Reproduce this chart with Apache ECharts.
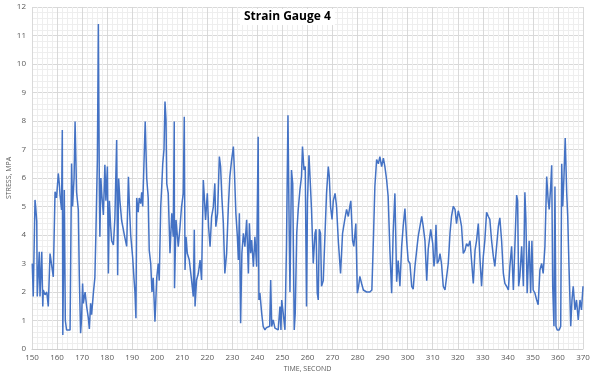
<!DOCTYPE html>
<html>
<head>
<meta charset="utf-8">
<script src="https://cdn.jsdelivr.net/npm/echarts@6/dist/echarts.min.js"></script>
<style>html,body{margin:0;padding:0;background:#fff}#c{width:600px;height:383px}</style>
</head>
<body>
<div id="c"></div>
<script>
const titleText = 'Strain Gauge 4';
const xName = 'TIME, SECOND';
const yName = 'STRESS, MPA';
const time = [150.1,150.5,151.2,151.5,151.9,152.1,152.9,153.2,153.9,154.3,154.5,155.2,155.9,156.5,157.2,157.9,158.5,159.2,159.8,160.5,160.9,161.2,161.8,162.1,162.3,162.9,163.3,163.8,164.5,165.2,165.8,166.2,166.8,167.2,167.8,168.5,168.9,169.4,169.8,170.2,170.5,171.2,171.8,172.5,172.9,173.4,173.8,174.5,175.1,175.5,176.1,176.5,176.9,177.1,177.5,177.8,178.5,179.1,179.5,180.1,180.5,180.9,181.4,181.8,182.5,183.1,183.8,184.2,184.6,185.1,185.8,186.5,187.1,187.8,188.5,188.9,189.4,190.2,190.7,191.1,191.5,191.8,192.4,192.8,193.4,193.8,194.2,194.7,195.2,195.8,196.4,196.8,197.4,197.9,198.4,199.1,199.8,200.4,200.8,201.4,201.8,202.2,202.7,203.1,203.5,203.8,204.4,205.1,205.8,206.4,206.8,206.9,207.5,208.4,209.1,209.7,210.4,210.8,211.1,211.5,212.0,212.8,213.7,214.4,214.8,215.1,215.7,216.4,217.1,217.7,218.4,218.8,219.3,220.0,220.5,221.1,221.7,222.4,223.0,223.4,224.1,224.8,225.3,225.8,226.4,227.0,227.7,228.4,229.0,229.7,230.4,230.8,231.4,232.0,232.4,232.8,233.3,233.8,234.4,235.0,235.7,236.4,236.8,237.3,237.7,238.4,239.0,239.7,240.3,240.6,241.0,241.7,242.3,243.0,243.6,244.3,244.9,245.3,245.7,246.3,247.0,247.6,248.3,249.0,249.4,249.7,250.3,251.0,251.6,252.2,252.7,253.0,253.6,254.1,254.7,255.1,255.7,256.3,257.0,257.6,258.0,258.6,259.1,259.6,260.0,260.6,261.0,261.6,262.3,263.0,263.4,263.9,264.3,264.7,265.2,265.6,266.3,267.0,267.6,268.3,268.7,269.2,269.8,270.3,271.0,271.6,272.3,273.2,274.0,274.9,275.6,276.3,276.9,277.3,278.0,278.5,279.3,279.9,280.4,280.9,281.6,282.3,283.0,283.6,284.3,284.9,285.7,286.3,286.9,287.6,288.3,288.9,289.6,290.3,290.9,291.6,292.2,292.9,293.6,294.2,294.9,295.6,296.2,296.9,297.6,298.2,298.9,299.6,300.2,300.9,301.6,302.2,302.9,303.6,304.2,304.9,305.6,306.2,306.9,307.6,308.2,309.2,310.0,310.5,310.9,311.3,311.8,312.4,312.9,313.5,314.2,314.9,315.5,316.2,316.9,317.5,318.2,318.9,319.5,320.2,320.9,321.5,322.2,322.9,323.5,324.2,324.9,325.5,326.2,326.9,327.5,328.2,328.9,329.5,330.2,330.8,331.5,332.2,332.8,333.5,334.2,334.8,335.5,336.2,336.8,337.5,338.2,338.8,339.5,340.2,340.8,341.5,342.2,342.8,343.5,343.9,344.3,344.8,345.5,346.2,346.8,347.2,347.7,348.5,349.1,349.6,350.1,350.8,351.5,352.1,352.8,353.5,354.1,354.8,355.5,356.1,356.5,357.1,357.5,357.9,358.4,358.8,359.2,359.7,360.5,361.1,361.5,361.9,362.4,362.9,363.5,363.9,364.4,365.1,365.6,366.1,366.8,367.4,368.1,368.8,369.4,370.0];
const stress = [3.0,1.84,5.23,4.95,4.47,1.84,3.41,1.84,3.41,1.49,2.07,1.9,2.0,1.49,3.35,3.4,2.53,5.52,5.3,6.16,5.8,5.4,4.88,7.68,0.49,5.58,1.0,0.67,0.6,0.67,6.51,5.0,6.0,7.98,5.5,4.88,2.5,0.55,1.08,2.3,1.6,2.0,1.5,1.08,0.7,1.6,1.2,1.96,2.5,4.0,6.63,11.4,5.47,3.94,6.0,5.5,4.7,6.46,5.2,6.4,2.65,5.2,4.3,3.8,3.65,4.6,7.33,2.59,5.98,5.2,4.5,4.5,3.9,3.6,6.04,5.0,4.0,3.2,2.5,2.0,1.08,5.3,4.8,5.3,5.1,5.5,5.0,6.5,7.98,6.0,5.3,3.47,3.0,2.0,2.5,0.96,2.5,3.0,2.4,5.0,5.7,6.5,7.0,8.68,8.04,5.8,5.46,3.36,4.76,3.94,7.98,2.13,4.53,3.59,4.29,4.99,5.46,8.15,2.77,3.94,3.36,3.12,2.42,1.84,4.18,1.49,2.42,2.65,3.12,2.42,5.93,5.34,4.53,5.46,4.29,3.59,4.64,4.99,5.81,4.29,4.76,6.75,6.4,5.34,4.41,2.65,3.36,4.99,6.05,6.63,7.1,6.28,4.76,3.94,3.12,4.76,0.9,3.36,4.06,3.59,4.53,2.65,4.41,3.36,3.82,2.89,3.94,2.89,7.45,1.72,1.96,1.26,0.79,0.67,0.75,0.73,0.8,2.42,0.79,1.02,0.73,0.8,0.67,1.49,0.67,1.72,1.26,0.67,3.59,8.2,4.06,2.0,6.28,5.8,0.67,1.25,4.06,4.9,5.6,6.05,7.1,6.28,6.4,1.49,5.2,6.8,6.05,4.9,3.0,4.06,4.2,1.96,1.72,4.2,4.06,2.2,2.4,4.06,5.46,6.4,6.05,5.0,4.55,5.2,5.46,5.0,3.8,2.65,4.06,4.55,4.9,4.65,5.0,5.2,3.8,3.6,4.4,1.96,2.2,2.55,2.3,2.07,2.05,2.0,1.95,2.0,2.07,3.8,5.7,6.65,6.5,6.75,6.4,6.7,6.4,5.93,5.35,3.47,1.96,4.06,5.46,2.36,3.1,2.2,3.6,4.3,4.93,3.8,3.1,3.0,2.2,2.1,2.9,3.47,3.95,4.3,4.65,4.3,3.8,2.4,3.5,4.2,3.7,2.9,3.25,4.36,3.0,3.1,3.35,3.0,2.2,2.07,2.1,3.0,4.06,4.65,5.0,4.9,4.4,4.85,4.6,4.3,3.35,3.47,3.7,3.6,3.8,3.1,2.3,3.47,3.8,4.4,3.1,2.2,3.25,3.8,4.8,4.65,4.55,3.8,3.25,2.9,3.6,4.3,4.6,3.8,2.65,2.3,2.2,2.07,2.9,3.6,2.07,3.6,5.4,5.2,2.2,2.55,3.6,2.2,5.5,4.55,1.96,3.8,1.96,3.8,2.07,1.96,1.72,1.55,2.77,3.0,2.65,3.6,6.05,5.2,4.9,5.7,6.45,2.2,0.8,5.7,0.8,0.67,0.67,0.8,6.5,5.0,6.05,7.4,5.46,4.65,2.9,0.8,1.72,2.2,1.37,1.72,1.02,1.72,1.37,2.2];

const chart = echarts.init(document.getElementById('c'), null, {renderer: 'canvas'});
const data = time.map((t, i) => [t, stress[i]]);
chart.setOption({
  animation: false,
  backgroundColor: '#fff',
  title: {
    text: titleText,
    left: 240, top: 9,
    padding: [2, 4],
    backgroundColor: '#fff',
    textStyle: {fontFamily: 'Open Sans', fontSize: 12, fontWeight: 'bold', color: '#000'}
  },
  grid: {left: 32, right: 17, top: 7, bottom: 34, containLabel: false, outerBoundsMode: 'none'},
  xAxis: {
    type: 'value', min: 150, max: 370, interval: 10,
    name: xName, nameLocation: 'middle', nameGap: 16, nameMoveOverlap: false,
    nameTextStyle: {fontFamily: 'Open Sans', fontSize: 7, color: '#595959'},
    axisLine: {show: true, lineStyle: {color: '#d0d0d0'}},
    axisTick: {show: false},
    axisLabel: {fontFamily: 'Open Sans', fontSize: 8, color: '#595959', margin: 5},
    splitLine: {show: true, lineStyle: {color: '#d9d9d9', width: 1}},
    minorTick: {show: false, splitNumber: 5},
    minorSplitLine: {show: true, lineStyle: {color: '#eeeeee', width: 1}}
  },
  yAxis: {
    type: 'value', min: 0, max: 12, interval: 1,
    name: yName, nameLocation: 'middle', nameGap: 20, nameMoveOverlap: false,
    nameTextStyle: {fontFamily: 'Open Sans', fontSize: 7, color: '#595959'},
    axisLine: {show: false},
    axisTick: {show: false},
    axisLabel: {fontFamily: 'Open Sans', fontSize: 8, color: '#595959', margin: 6},
    splitLine: {show: true, lineStyle: {color: '#d9d9d9', width: 1}},
    minorTick: {show: false, splitNumber: 5},
    minorSplitLine: {show: true, lineStyle: {color: '#eeeeee', width: 1}}
  },
  series: [{
    type: 'line',
    data: data,
    showSymbol: false,
    symbol: 'none',
    lineStyle: {color: '#4472C4', width: 1.5},
    z: 3
  }]
});
</script>
</body>
</html>
